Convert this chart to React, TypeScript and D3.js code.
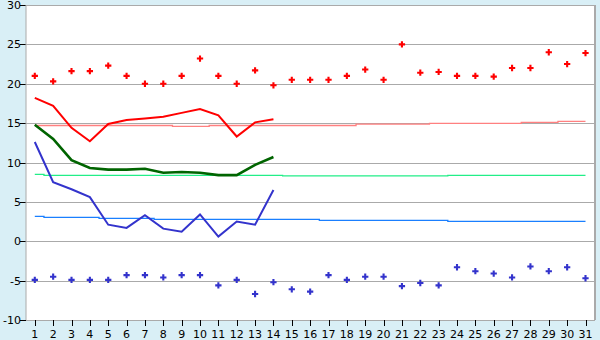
import React from "react";
import * as d3 from "d3";

const days = d3.range(1, 32);
const yTicks = [-10, -5, 0, 5, 10, 15, 20, 25, 30];

const maxTemps = [21, 20.3, 21.6, 21.6, 22.3, 21, 20, 20, 21, 23.2, 21, 20, 21.7, 19.8, 20.5, 20.5, 20.5, 21, 21.8, 20.5, 25, 21.4, 21.5, 21, 21, 20.9, 22, 22, 24, 22.5, 23.9];
const minTemps = [-4.9, -4.5, -4.9, -4.9, -4.9, -4.3, -4.3, -4.6, -4.3, -4.3, -5.6, -4.9, -6.7, -5.2, -6.1, -6.4, -4.3, -4.9, -4.5, -4.5, -5.7, -5.3, -5.6, -3.3, -3.8, -4.1, -4.6, -3.2, -3.8, -3.3, -4.7];

const maxLine = [18.2, 17.2, 14.4, 12.7, 14.9, 15.4, 15.6, 15.8, 16.3, 16.8, 16.0, 13.3, 15.1, 15.5];
const meanLine = [14.8, 13.0, 10.3, 9.3, 9.1, 9.1, 9.2, 8.7, 8.8, 8.7, 8.4, 8.4, 9.7, 10.7];
const minLine = [12.6, 7.5, 6.6, 5.6, 2.1, 1.7, 3.3, 1.6, 1.2, 3.4, 0.6, 2.5, 2.1, 6.5];

const maxNormal = [14.7, 14.7, 14.7, 14.7, 14.7, 14.7, 14.7, 14.7, 14.58, 14.58, 14.7, 14.7, 14.7, 14.7, 14.7, 14.7, 14.7, 14.7, 14.88, 14.88, 14.88, 14.88, 14.98, 14.98, 14.98, 14.98, 14.98, 15.1, 15.1, 15.22, 15.22];
const meanNormal = [8.5, 8.37, 8.37, 8.37, 8.37, 8.37, 8.37, 8.37, 8.37, 8.37, 8.37, 8.37, 8.37, 8.37, 8.29, 8.29, 8.29, 8.29, 8.29, 8.29, 8.29, 8.29, 8.29, 8.37, 8.37, 8.37, 8.37, 8.37, 8.37, 8.37, 8.37];
const minNormal = [3.17, 3.04, 3.04, 3.04, 2.91, 2.91, 2.91, 2.78, 2.78, 2.78, 2.78, 2.78, 2.78, 2.78, 2.78, 2.78, 2.66, 2.66, 2.66, 2.66, 2.66, 2.66, 2.66, 2.53, 2.53, 2.53, 2.53, 2.53, 2.53, 2.53, 2.53];

const W = 600;
const H = 340;
const left = 26;
const right = 595;
const top = 5;
const bottom = 320;

export default function App() {
  const x = d3.scalePoint<number>().domain(days).range([34.8, 585.5]);
  const y = d3.scaleLinear().domain([-10, 30]).range([bottom, top]);

  const lineOf = (vals: number[], curve: d3.CurveFactory) =>
    d3
      .line<number>()
      .x((_, i) => x(days[i]) as number)
      .y((v) => y(v))
      .curve(curve)(vals) || "";

  const cross = d3.symbol().type(d3.symbolCross).size(22)() || "";

  return (
    <svg
      width={W}
      height={H}
      style={{ position: "fixed", left: 0, top: 0, fontFamily: "DejaVu Sans", fontSize: 11 }}
    >
      <rect x={0} y={0} width={W} height={H} fill="#d9eff6" />
      <rect x={left} y={top} width={right - left} height={bottom - top} fill="#ffffff" />
      {yTicks.map((t) => (
        <g key={t}>
          <line x1={left} x2={right} y1={Math.round(y(t)) + 0.5} y2={Math.round(y(t)) + 0.5} stroke="#aaaaaa" strokeWidth={1} />
          <line x1={20} x2={left} y1={Math.round(y(t)) + 0.5} y2={Math.round(y(t)) + 0.5} stroke="#000" strokeWidth={1} />
          <text x={21} y={y(t) + 4} textAnchor="end" fill="#000">
            {String(t)}
          </text>
        </g>
      ))}
      <line x1={right} x2={right} y1={top} y2={bottom} stroke="#aaaaaa" strokeWidth={2} />
      <line x1={left} x2={left} y1={top} y2={bottom} stroke="#aaaaaa" strokeWidth={1} />
      {days.map((d) => (
        <g key={d}>
          <line x1={Math.round(x(d) as number) + 0.5} x2={Math.round(x(d) as number) + 0.5} y1={bottom} y2={bottom + 6} stroke="#000" />
          <text x={x(d)} y={338} textAnchor="middle" fill="#000">
            {d}
          </text>
        </g>
      ))}
      <path d={lineOf(maxNormal, d3.curveStep)} fill="none" stroke="#ff8080" strokeWidth={1.3} />
      <path d={lineOf(meanNormal, d3.curveStep)} fill="none" stroke="#22ee88" strokeWidth={1.3} />
      <path d={lineOf(minNormal, d3.curveStep)} fill="none" stroke="#1a7fff" strokeWidth={1.3} />
      <path d={lineOf(maxLine, d3.curveLinear)} fill="none" stroke="#ff0000" strokeWidth={2} />
      <path d={lineOf(meanLine, d3.curveLinear)} fill="none" stroke="#006400" strokeWidth={2.6} />
      <path d={lineOf(minLine, d3.curveLinear)} fill="none" stroke="#3333cc" strokeWidth={2} />
      {maxTemps.map((v, i) => (
        <path key={"mx" + i} d={cross} transform={`translate(${x(days[i])},${y(v)})`} fill="#ff0000" />
      ))}
      {minTemps.map((v, i) => (
        <path key={"mn" + i} d={cross} transform={`translate(${x(days[i])},${y(v)})`} fill="#3333cc" />
      ))}
    </svg>
  );
}
